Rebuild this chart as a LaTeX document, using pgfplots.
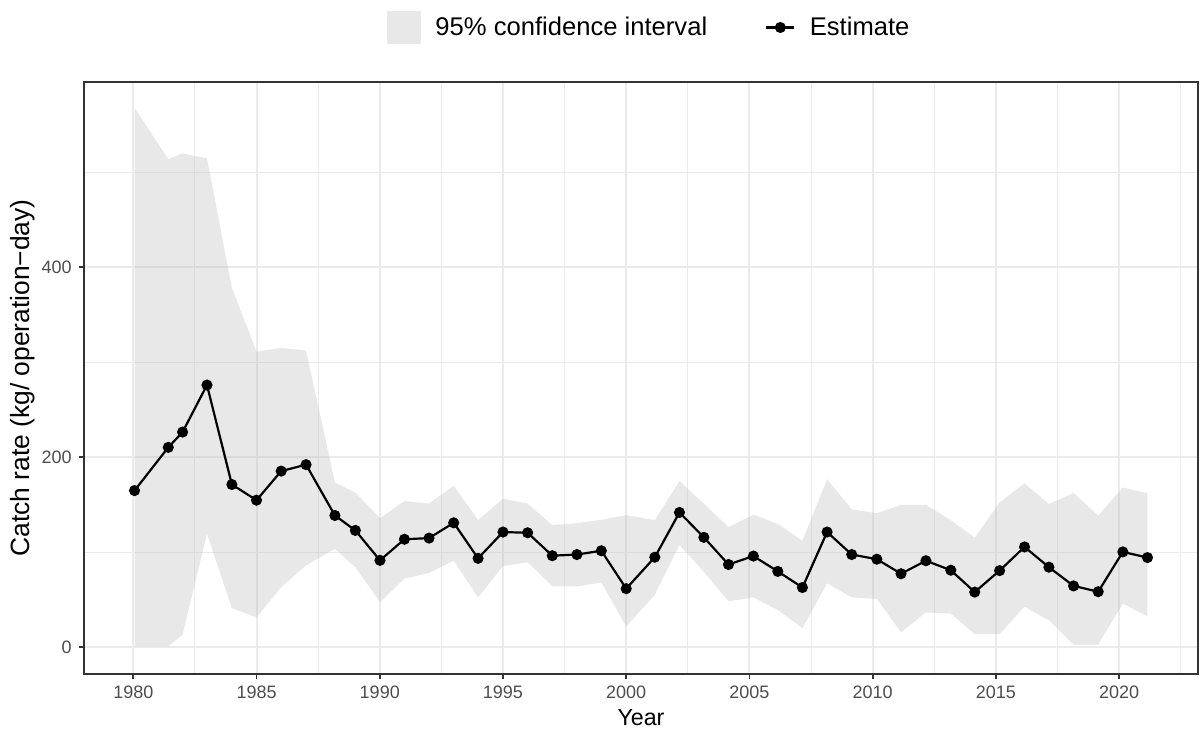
\documentclass[border=0pt]{standalone}
\usepackage{fontspec}
\setmainfont{Liberation Sans}
\usepackage{pgfplots}
\usepackage{pgfplotstable}
\pgfplotsset{compat=1.18}
\usepgfplotslibrary{fillbetween}
\definecolor{gridc}{HTML}{EBEBEB}
\definecolor{framec}{HTML}{333333}
\definecolor{tickc}{HTML}{4D4D4D}
\definecolor{ribc}{HTML}{B3B3B3}

\pgfplotstableread{
x est lo hi
1980.05 164.8 0.8 567.6
1981.42 210.3 0.8 513.6
1982.00 226.4 13.3 519.6
1982.99 275.9 119.6 514.4
1984.00 171.2 41.1 378.2
1985.00 154.7 31.4 311.0
1986.00 185.3 63.2 315.0
1987.01 192.1 86.2 312.2
1988.18 138.6 103.5 173.2
1989.01 122.9 84.2 162.7
1990.01 91.4 47.5 135.7
1991.00 113.6 72.1 153.9
1992.00 114.8 78.1 151.1
1993.00 130.9 91.0 170.0
1993.99 93.5 52.4 133.7
1995.00 121.2 85.4 156.3
1996.00 120.4 89.4 151.1
1997.00 96.3 64.0 128.5
1998.00 97.5 64.0 130.5
1998.99 101.5 68.1 134.1
2000.00 61.6 21.8 139.0
2001.16 94.7 55.2 133.7
2002.16 141.8 107.6 174.8
2003.15 115.6 79.4 151.0
2004.15 87.0 48.3 126.5
2005.16 95.9 52.4 139.4
2006.15 79.8 39.1 129.7
2007.15 62.8 20.1 112.0
2008.15 121.2 67.3 176.8
2009.15 97.5 52.4 145.0
2010.17 92.6 50.8 141.0
2011.15 77.3 15.7 149.8
2012.16 91.0 36.7 149.8
2013.17 81.0 35.4 133.7
2014.14 58.0 13.7 115.2
2015.15 80.6 13.7 152.3
2016.16 105.5 42.7 172.4
2017.15 84.2 28.2 150.7
2018.15 64.5 2.8 162.3
2019.15 58.4 2.8 138.6
2020.15 100.3 46.0 168.0
2021.15 94.3 32.2 161.9
}\datatable

\begin{document}
\begin{tikzpicture}
\begin{axis}[
  at={(0,0)}, anchor=south west,
  scale only axis, width=557pt, height=296pt,
  xmin=1978.0, xmax=2023.2, ymin=-28.2, ymax=594.8,
  xtick={1980,1985,...,2020},
  minor xtick={1982.5,1987.5,...,2022.5},
  ytick={0,200,400}, minor ytick={100,300,500},
  grid=both,
  major grid style={draw=gridc, line width=1pt},
  minor grid style={draw=gridc, line width=0.5pt},
  axis line style={draw=framec, line width=0.9pt},
  major tick style={draw=framec, line width=0.9pt},
  major tick length=2.5pt, minor tick length=0pt,
  tick align=outside, tick pos=left,
  xticklabel style={font=\fontsize{9}{10}\selectfont, text=tickc, inner sep=0pt, anchor=center, yshift=-6.5pt,
    /pgf/number format/1000 sep={}, /pgf/number format/assume math mode=true},
  yticklabel style={font=\fontsize{9}{10}\selectfont, text=tickc, inner sep=0pt, anchor=east, xshift=-3.5pt,
    /pgf/number format/assume math mode=true},
  xlabel={Year},
  ylabel={Catch rate (kg/ operation\textminus day)},
  xlabel style={font=\fontsize{11.6}{13}\selectfont, at={(axis description cs:0.5,-0.0743)}, anchor=center, inner sep=0pt},
  ylabel style={font=\fontsize{13.2}{15}\selectfont, at={(axis description cs:-0.0548,0.5)}, anchor=center, inner sep=0pt},
  legend style={at={(axis description cs:0.5065,1)}, anchor=center, yshift=27.25pt,
    draw=none, fill=none, inner sep=0pt, outer sep=0pt,
    font=\fontsize{12.8}{14}\selectfont, legend columns=2,
    nodes={inner sep=0pt, anchor=west},
    /tikz/every odd column/.append style={column sep=7.2pt},
    /tikz/every even column/.append style={column sep=29pt}},
]
\addplot[name path=hi, draw=none, forget plot] table[x=x,y=hi]{\datatable};
\addplot[name path=lo, draw=none, forget plot] table[x=x,y=lo]{\datatable};
\addplot[fill=ribc, fill opacity=0.3, draw=none,
  legend image code/.code={\fill[ribc, fill opacity=0.3] (0pt,-8.25pt) rectangle (17pt,8.25pt);}]
  fill between[of=hi and lo];
\addlegendentry{95\% confidence interval}
\addplot[black, line width=1.1pt, mark=*, mark size=2.2pt,
  legend image code/.code={\draw[black, line width=1.1pt] (1.5pt,0)--(15.5pt,0); \fill[black] (8.5pt,0) circle (2.2pt);}]
  table[x=x,y=est]{\datatable};
\addlegendentry{Estimate}
\end{axis}
\pgfresetboundingbox
\path[use as bounding box] (-42pt,-28.5pt) rectangle (559pt,337pt);
\end{tikzpicture}
\end{document}
